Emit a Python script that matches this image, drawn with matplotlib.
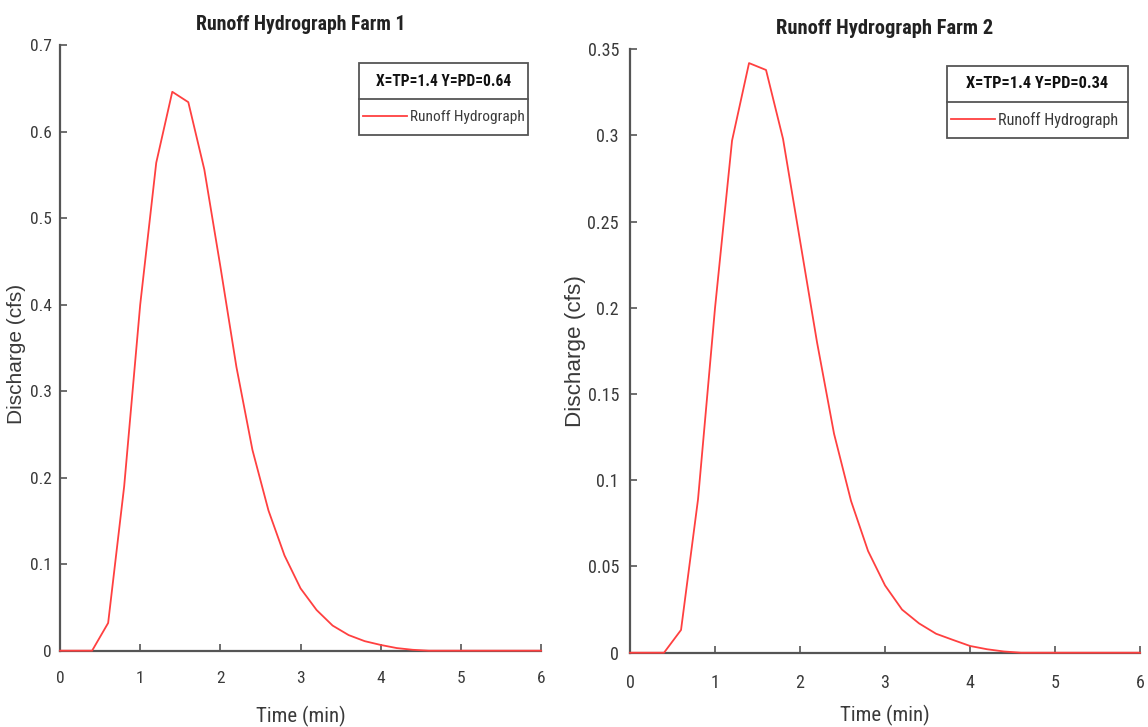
import matplotlib
matplotlib.use("Agg")
import matplotlib.pyplot as plt
from matplotlib.patches import Rectangle
from matplotlib.lines import Line2D

NARROW = ['Liberation Sans Narrow', 'Roboto Condensed', 'PT Sans Narrow',
          'Archivo Narrow', 'Liberation Sans', 'DejaVu Sans']
plt.rcParams['font.family'] = NARROW

# === DATA ===
time_min = [0.0, 0.2, 0.4, 0.6, 0.8, 1.0, 1.2, 1.4, 1.6, 1.8, 2.0,
            2.2, 2.4, 2.6, 2.8, 3.0, 3.2, 3.4, 3.6, 3.8, 4.0,
            4.2, 4.4, 4.6, 4.8, 5.0, 5.2, 5.4, 5.6, 5.8, 6.0]

q_farm1 = [0, 0, 0, 0.032, 0.19, 0.40, 0.564, 0.646, 0.634, 0.556, 0.444,
           0.328, 0.232, 0.162, 0.110, 0.072, 0.047, 0.029, 0.018, 0.011, 0.0066,
           0.003, 0.001, 0, 0, 0, 0, 0, 0, 0, 0]

q_farm2 = [0, 0, 0, 0.0132, 0.089, 0.200, 0.297, 0.342, 0.338, 0.298, 0.239,
           0.180, 0.127, 0.088, 0.059, 0.039, 0.025, 0.017, 0.011, 0.0074, 0.0039,
           0.002, 0.0007, 0, 0, 0, 0, 0, 0, 0, 0]

x_ticks = [0, 1, 2, 3, 4, 5, 6]
y_ticks1 = [0, 0.1, 0.2, 0.3, 0.4, 0.5, 0.6, 0.7]
y_labels1 = ['0', '0.1', '0.2', '0.3', '0.4', '0.5', '0.6', '0.7']
y_ticks2 = [0, 0.05, 0.1, 0.15, 0.2, 0.25, 0.3, 0.35]
y_labels2 = ['0', '0.05', '0.1', '0.15', '0.2', '0.25', '0.3', '0.35']

titles = ['Runoff Hydrograph Farm 1', 'Runoff Hydrograph Farm 2']
legend_titles = ['X=TP=1.4 Y=PD=0.64', 'X=TP=1.4 Y=PD=0.34']

LINE_COLOR = '#ff4040'
AXIS_COLOR = '#555555'
TEXT_COLOR = '#3a3a3a'

W, H = 1148, 727
fig = plt.figure(figsize=(W / 100, H / 100), dpi=100)
ax1 = fig.add_axes([0.0523, 0.105, 0.419, 0.833])
ax2 = fig.add_axes([0.5488, 0.1022, 0.4443, 0.830])


def fx(px):
    return px / W


def fy(py):
    return 1 - py / H


# per panel: ukuran font, posisi label, kotak legenda (piksel: x0, y0, x1, y1, garis pemisah)
panels = [
    dict(ax=ax1, q=q_farm1, ymax=0.7, yt=y_ticks1, yl=y_labels1,
         title_fs=14.2, title_pad=11, tick_fs=12.5, ypad=6,
         ylab_fs=15, ylab_xy=(-0.071, 0.49), xlab_y=-0.091,
         box=(359, 63, 528, 135, 99), leg_title_fs=11.2, leg_fs=11.1),
    dict(ax=ax2, q=q_farm2, ymax=0.35, yt=y_ticks2, yl=y_labels2,
         title_fs=14.8, title_pad=11, tick_fs=13, ypad=8,
         ylab_fs=16.2, ylab_xy=(-0.086, 0.5), xlab_y=-0.087,
         box=(947, 66, 1128, 138, 102), leg_title_fs=11.8, leg_fs=11.6),
]

for i, p in enumerate(panels):
    ax = p['ax']
    line, = ax.plot(time_min, p['q'], color=LINE_COLOR, lw=1.3,
                    label='Runoff Hydrograph', clip_on=False, zorder=3)
    ax.set_xlim(0, 6)
    ax.set_ylim(0, p['ymax'])
    ax.set_xticks(x_ticks)
    ax.set_xticklabels([str(t) for t in x_ticks])
    ax.set_yticks(p['yt'])
    ax.set_yticklabels(p['yl'])

    for side in ['top', 'right']:
        ax.spines[side].set_visible(False)
    for side in ['left', 'bottom']:
        ax.spines[side].set_color(AXIS_COLOR)
        ax.spines[side].set_linewidth(1.6)

    ax.tick_params(direction='in', length=5, width=1.2, color=AXIS_COLOR,
                   labelcolor=TEXT_COLOR, labelsize=p['tick_fs'])
    ax.tick_params(axis='x', pad=15)
    ax.tick_params(axis='y', pad=p['ypad'])

    ax.set_title(titles[i], fontsize=p['title_fs'], fontweight='bold',
                 color='#222222', pad=p['title_pad'])
    ax.set_ylabel('Discharge (cfs)', fontsize=p['ylab_fs'], color=TEXT_COLOR,
                  family=['Liberation Sans', 'DejaVu Sans'])
    ax.yaxis.set_label_coords(*p['ylab_xy'])
    ax.set_xlabel('Time (min)', fontsize=15, color=TEXT_COLOR)
    ax.xaxis.set_label_coords(0.5, p['xlab_y'])

    # legenda gaya MATLAB: kotak dengan judul dan garis pemisah
    x0, y0, x1, y1, ysep = p['box']
    fig.add_artist(Rectangle((fx(x0), fy(y1)), fx(x1) - fx(x0), fy(y0) - fy(y1),
                             transform=fig.transFigure, facecolor='white',
                             edgecolor=AXIS_COLOR, lw=1.3, zorder=4))
    fig.add_artist(Line2D([fx(x0), fx(x1)], [fy(ysep), fy(ysep)],
                          transform=fig.transFigure, color=AXIS_COLOR, lw=1.3,
                          zorder=5))
    fig.text(fx((x0 + x1) / 2), fy((y0 + ysep) / 2), legend_titles[i],
             ha='center', va='center', fontsize=p['leg_title_fs'],
             fontweight='bold', color='#111111', zorder=6)
    fs_px = p['leg_fs'] * 100 / 72
    leg = ax.legend(handles=[line], loc='center left',
                    bbox_to_anchor=(fx(x0 + 4), fy((ysep + y1) / 2)),
                    bbox_transform=fig.transFigure, frameon=False,
                    borderpad=0, borderaxespad=0, fontsize=p['leg_fs'],
                    handlelength=44 / fs_px, handletextpad=3 / fs_px)
    leg.set_zorder(6)
    for t in leg.get_texts():
        t.set_color(TEXT_COLOR)
    fig.add_artist(leg)

plt.savefig('out.png', dpi=100)
